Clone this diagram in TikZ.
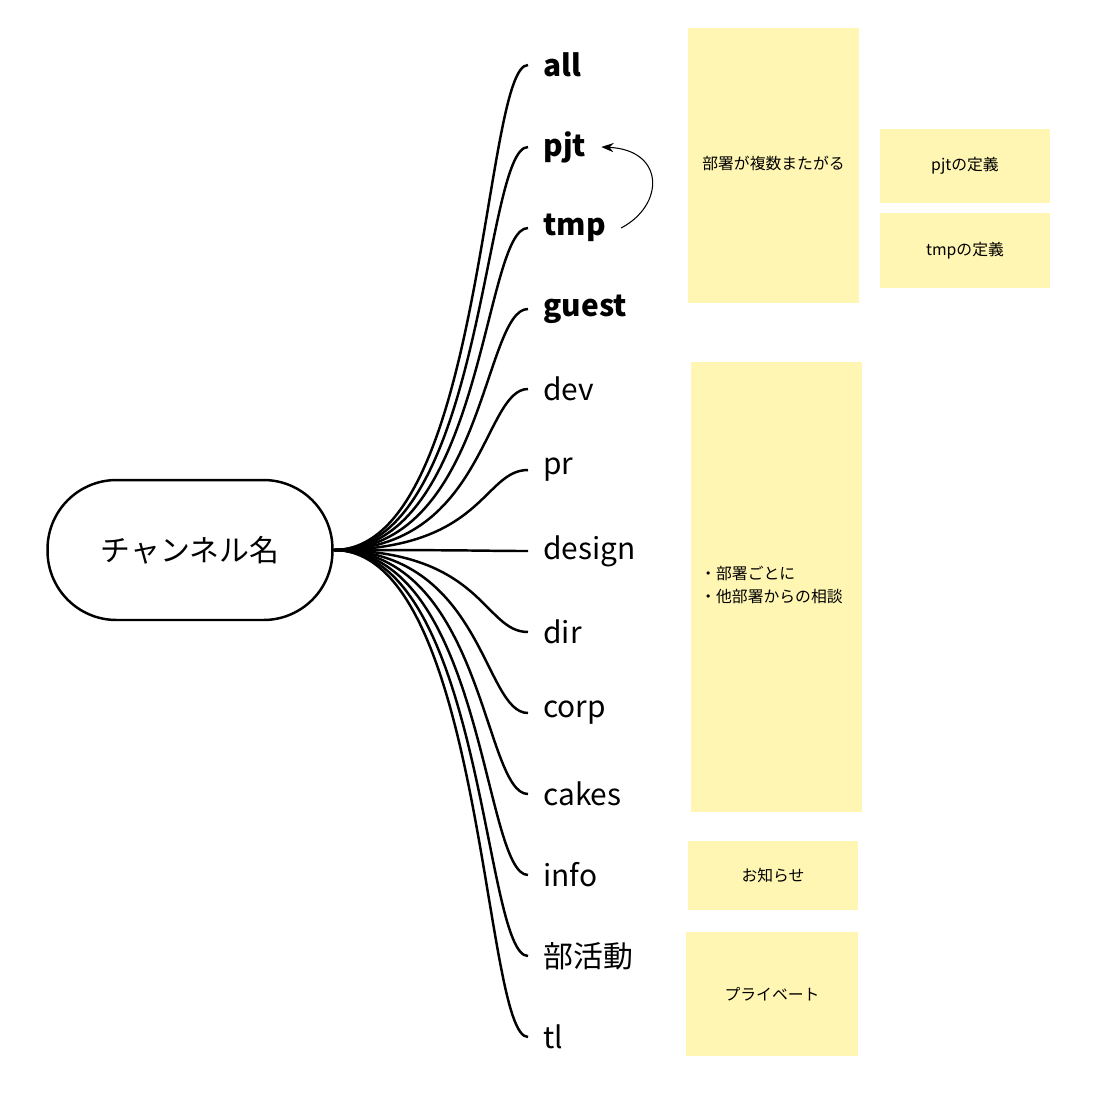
\documentclass[tikz,border=0pt]{standalone}
\usepackage{fontspec}
\setmainfont{Noto Sans CJK JP}
\usetikzlibrary{positioning, arrows.meta}
\definecolor{memo}{HTML}{FFF6B3}

\begin{document}
\begin{tikzpicture}[x=0.02cm, y=-0.02cm]
        \tikzset{leaf/.style={anchor=west, inner xsep=0.3cm, inner ysep=0pt, font=\fontsize{17}{20}\selectfont}}
        \tikzset{branch/.style={line width=1.4pt}}
        \tikzset{memobox/.style={fill=memo, draw=none, inner sep=0pt, font=\fontsize{9}{13}\selectfont}}
        \useasboundingbox (0,0) rectangle (1099,1099);

        \node[draw, line width=1.4pt, rounded corners=1.38cm, minimum width=5.7cm, minimum height=2.8cm,
              font=\fontsize{17}{20}\selectfont] (root) at (190,550) {チャンネル名};

        \node[leaf, font=\fontsize{17}{20}\selectfont\bfseries] (all) at (528,65) {all};
        \node[leaf, font=\fontsize{17}{20}\selectfont\bfseries] (pjt) at (528,147) {pjt};
        \node[leaf, font=\fontsize{17}{20}\selectfont\bfseries] (tmp) at (528,228) {tmp};
        \node[leaf, font=\fontsize{17}{20}\selectfont\bfseries] (guest) at (528,309) {guest};
        \node[leaf] (dev) at (528,389) {dev};
        \node[leaf] (pr) at (528,470) {pr};
        \node[leaf] (design) at (528,551) {design};
        \node[leaf] (dir) at (528,632) {dir};
        \node[leaf] (corp) at (528,713) {corp};
        \node[leaf] (cakes) at (528,794) {cakes};
        \node[leaf] (info) at (528,875) {info};
        \node[leaf] (club) at (528,956) {部活動};
        \node[leaf] (tl) at (528,1037) {tl};

        \foreach \n in {all,pjt,tmp,guest,dev,pr,design,dir,corp,cakes,info,club,tl}
            \draw[branch] (root.east) .. controls +(150,0) and +(-45,0) .. (\n.west);

        \draw[-{Stealth[length=7pt]}, semithick] (tmp.east) .. controls (665,205) and (665,150) .. (pjt.east);

        % memos
        \node[memobox, minimum width=3.42cm, minimum height=5.5cm] (multi) at (773.5,165.5) {};
        \node[memobox] at (773.5,163) {部署が複数またがる};
        \node[memobox, minimum width=3.4cm, minimum height=1.48cm] (pjtdef) at (965,166) {pjtの定義};
        \node[memobox, minimum width=3.4cm, minimum height=1.5cm] (tmpdef) at (965,250.5) {tmpの定義};
        \node[memobox, minimum width=3.42cm, minimum height=9cm] (dept) at (776.5,587) {};
        \node[memobox, anchor=west, align=left] at (700,585) {・部署ごとに\\・他部署からの相談};
        \node[memobox, minimum width=3.4cm, minimum height=1.38cm] (notice) at (773,875.5) {お知らせ};
        \node[memobox, minimum width=3.44cm, minimum height=2.48cm] (private) at (772,994) {プライベート};
    \end{tikzpicture}
\end{document}
